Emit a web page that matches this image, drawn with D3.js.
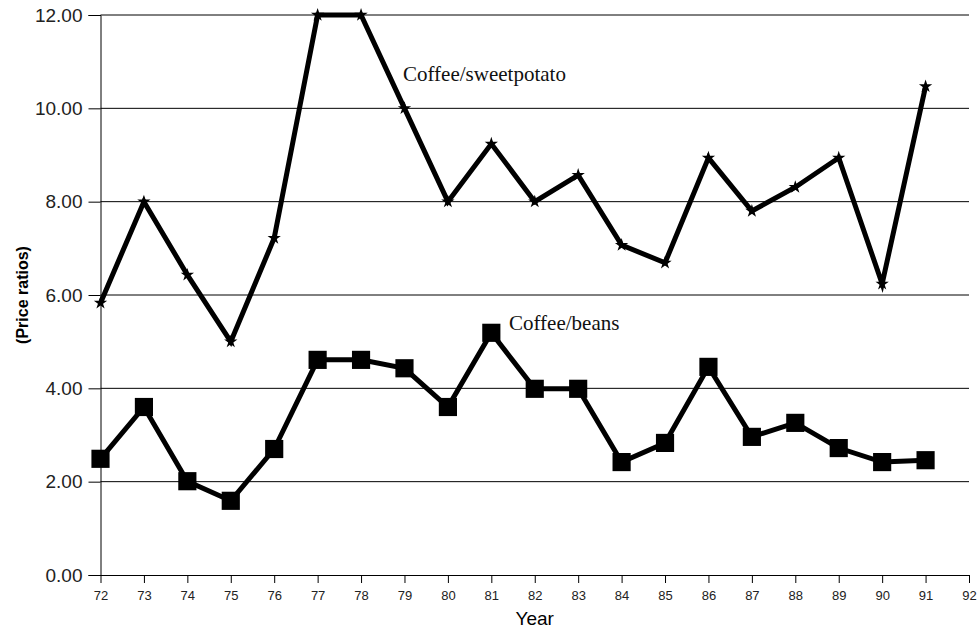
<!DOCTYPE html>
<html>
<head>
<meta charset="utf-8">
<script src="https://cdn.jsdelivr.net/npm/d3@7"></script>
<style>
  html, body { margin: 0; padding: 0; background: #fff; }
  svg { display: block; }
</style>
</head>
<body>
<div id="viz"></div>
<script>
// ---- Data ----
const years = [72, 73, 74, 75, 76, 77, 78, 79, 80, 81, 82, 83, 84, 85, 86, 87, 88, 89, 90, 91];
const sweetpotato = [5.83, 8.00, 6.43, 5.00, 7.22, 12.00, 12.00, 10.00, 8.00, 9.24, 8.00, 8.57, 7.07, 6.69, 8.94, 7.80, 8.31, 8.94, 6.24, 10.47];
const beans = [2.49, 3.60, 2.01, 1.59, 2.70, 4.61, 4.61, 4.43, 3.60, 5.19, 3.99, 3.99, 2.42, 2.83, 4.46, 2.96, 3.26, 2.72, 2.42, 2.46];
const yTicks = [0, 2, 4, 6, 8, 10, 12];
const xTicks = d3.range(72, 93);

// ---- Layout ----
const W = 979, H = 633;
const plot = { left: 100.5, right: 969, top: 15, bottom: 575 };

const x = d3.scaleLinear().domain([72, 92]).range([plot.left, plot.right]);
const y = d3.scaleLinear().domain([0, 12]).range([plot.bottom, plot.top]);

const svg = d3.select('#viz').append('svg')
  .attr('width', W).attr('height', H)
  .attr('viewBox', `0 0 ${W} ${H}`);

// Gridlines
svg.append('g').selectAll('line').data(yTicks.filter(d => d > 0)).join('line')
  .attr('x1', plot.left).attr('x2', plot.right)
  .attr('y1', d => y(d)).attr('y2', d => y(d))
  .attr('stroke', '#000').attr('stroke-width', 1);

// Y axis
const yAxis = svg.append('g')
  .attr('transform', `translate(${plot.left},0)`)
  .call(d3.axisLeft(y).tickValues(yTicks).tickSize(12).tickPadding(6).tickFormat(d3.format('.2f')));
yAxis.select('.domain').attr('stroke', '#000');
yAxis.selectAll('text')
  .style('font-family', 'Liberation Sans, Arial, sans-serif')
  .style('font-size', '19px')
  .attr('fill', '#222');

// X axis
const xAxis = svg.append('g')
  .attr('transform', `translate(0,${plot.bottom})`)
  .call(d3.axisBottom(x).tickValues(xTicks).tickSize(8).tickPadding(8).tickSizeOuter(0).tickFormat(d => d));
xAxis.selectAll('text')
  .style('font-family', 'Liberation Sans, Arial, sans-serif')
  .style('font-size', '13px')
  .attr('fill', '#222');

// Axis titles
svg.append('text')
  .attr('x', (plot.left + plot.right) / 2).attr('y', 625)
  .attr('text-anchor', 'middle')
  .style('font-family', 'Liberation Sans, Arial, sans-serif')
  .style('font-size', '19px')
  .text('Year');

svg.append('text')
  .attr('transform', `translate(28,${(plot.top + plot.bottom) / 2}) rotate(-90)`)
  .attr('text-anchor', 'middle')
  .style('font-family', 'Liberation Sans, Arial, sans-serif')
  .style('font-size', '16px')
  .style('font-weight', 'bold')
  .text('(Price ratios)');

// Series
const line = d3.line().x(d => x(d.year)).y(d => y(d.v));
const series = [
  { name: 'Coffee/sweetpotato', values: sweetpotato, symbol: d3.symbolStar, size: 55 },
  { name: 'Coffee/beans', values: beans, symbol: d3.symbolSquare, size: 330 },
];

series.forEach(s => {
  const pts = years.map((yr, i) => ({ year: yr, v: s.values[i] }));
  svg.append('path').datum(pts)
    .attr('d', line)
    .attr('fill', 'none')
    .attr('stroke', '#000')
    .attr('stroke-width', 5)
    .attr('stroke-linejoin', 'miter');
  svg.append('g').selectAll('path').data(pts).join('path')
    .attr('transform', d => `translate(${x(d.year)},${y(d.v)})`)
    .attr('d', d3.symbol().type(s.symbol).size(s.size))
    .attr('fill', '#000');
});

// Series labels
const labelStyle = sel => sel
  .style('font-family', 'Liberation Serif, Times New Roman, serif')
  .style('font-size', '21px')
  .attr('fill', '#111');

svg.append('text').attr('x', 403).attr('y', 81).text('Coffee/sweetpotato').call(labelStyle);
svg.append('text').attr('x', 509).attr('y', 330).text('Coffee/beans').call(labelStyle);
</script>
</body>
</html>
